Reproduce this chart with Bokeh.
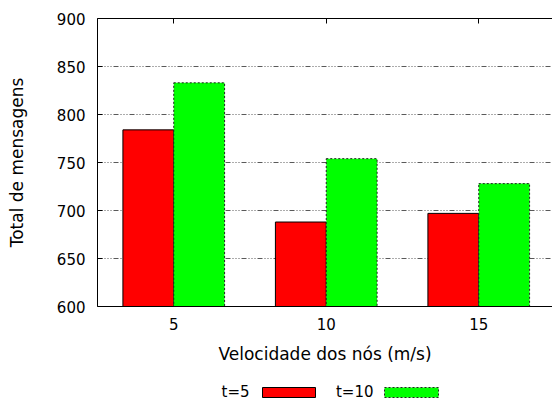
from bokeh.plotting import figure
from bokeh.layouts import column
from bokeh.models import LinearAxis, FixedTicker, Range1d, ColumnDataSource
from bokeh.core.properties import value
from bokeh.embed import file_html
from bokeh.resources import INLINE

categories = ["5", "10", "15"]
series_names = ["t=5", "t=10"]
t5_values = [784, 688, 697]
t10_values = [833, 754, 728]
y_ticks = [600, 650, 700, 750, 800, 850, 900]

FONT = "DejaVu Sans"
xs = list(range(1, len(categories) + 1))
bw = 1.0 / 3

W = 552
LEFT = 97
p = figure(width=W, height=370, output_backend="svg", toolbar_location=None,
           x_range=Range1d(0.5, 0.5 + (W - LEFT) / 152.5), y_range=Range1d(600, 900),
           min_border_left=LEFT, min_border_right=0, min_border_top=18,
           min_border_bottom=64)
p.outline_line_color = None
p.background_fill_color = "white"
p.border_fill_color = "white"

src_a = ColumnDataSource(dict(x=[x - bw / 2 for x in xs], top=t5_values))
src_b = ColumnDataSource(dict(x=[x + bw / 2 for x in xs], top=t10_values))
p.vbar(x="x", top="top", bottom=600, width=bw, source=src_a,
       fill_color="#ff0000", line_color="#000000", line_width=1)
p.vbar(x="x", top="top", bottom=600, width=bw, source=src_b,
       fill_color="#00ff00", line_color="#222222", line_width=1, line_dash="2 2")

# axes
p.xaxis.ticker = FixedTicker(ticks=xs)
p.xaxis.major_label_overrides = {x: c for x, c in zip(xs, categories)}
p.xaxis.axis_label = "Velocidade dos nós (m/s)"
p.yaxis.ticker = FixedTicker(ticks=y_ticks)
p.yaxis.axis_label = "Total de mensagens"
for ax in (p.xaxis[0], p.yaxis[0]):
    ax.axis_line_color = "black"
    ax.axis_line_width = 1
    ax.major_tick_out = 0
    ax.minor_tick_line_color = None
    ax.major_label_text_font = FONT
    ax.major_label_text_font_size = "15px"
    ax.major_label_text_color = "black"
    ax.axis_label_text_font = FONT
    ax.axis_label_text_font_size = "17px"
    ax.axis_label_text_font_style = "normal"
    ax.axis_label_text_color = "black"
p.xaxis.major_tick_in = 0
p.yaxis.major_tick_in = 5
p.xaxis.major_label_standoff = 11
p.xaxis.axis_label_standoff = 11
p.yaxis.major_label_standoff = 12
p.yaxis.axis_label_standoff = 27

# top border with small inward tick marks (no labels)
top_axis = LinearAxis(ticker=FixedTicker(ticks=[], minor_ticks=xs),
                      major_tick_line_color=None,
                      minor_tick_in=5, minor_tick_out=0, minor_tick_line_color="black",
                      major_label_standoff=0, axis_line_color="black")
p.add_layout(top_axis, "above")

p.xgrid.grid_line_color = None
p.ygrid.ticker = FixedTicker(ticks=y_ticks[1:-1])
p.ygrid.grid_line_color = "black"
p.ygrid.grid_line_alpha = 0.65
p.ygrid.grid_line_dash = "5 2 1 2 1 2 1 2"

# legend strip below (text left of swatch, as in the reference)
lg = figure(width=W, height=30, output_backend="svg", toolbar_location=None,
            x_range=Range1d(LEFT, W), y_range=Range1d(0, 30),
            min_border=0, min_border_left=LEFT)
lg.axis.visible = False
lg.grid.visible = False
lg.outline_line_color = None
leg = ColumnDataSource(dict(name=series_names, tx=[249, 373]))
lg.text(x="tx", y=9, text="name", source=leg, text_align="right",
        text_baseline="middle", text_font=value(FONT),
        text_font_size="15px", text_color="black")
lg.quad(left="left", right="right", bottom=3, top=13,
        source=ColumnDataSource(dict(left=[262], right=[315])),
        fill_color="#ff0000", line_color="black", line_width=1)
lg.quad(left="left", right="right", bottom=3, top=13,
        source=ColumnDataSource(dict(left=[384], right=[438])),
        fill_color="#00ff00", line_color="#222222", line_width=1, line_dash="2 2")

layout = column(p, lg, spacing=0)
open("out.html", "w").write(file_html(layout, INLINE))
